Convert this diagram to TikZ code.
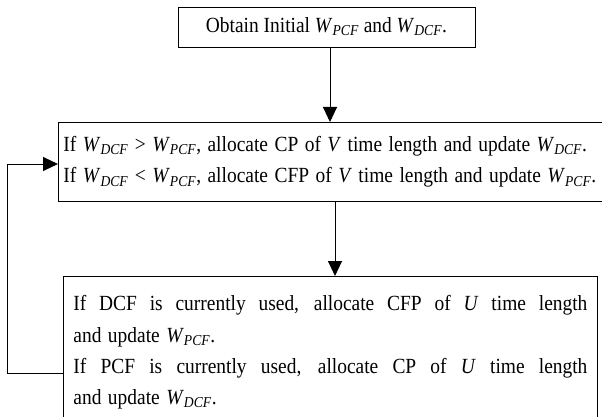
\documentclass[tikz,border=0pt]{standalone}
\usepackage{fontspec}
\setmainfont[FakeStretch=0.9]{Liberation Serif}
\usetikzlibrary{arrows.meta}
\newcommand\WW[1]{\textit{W}\textsubscript{\textit{#1}}}
\newcommand\jline[1]{\makebox[514pt][s]{\spaceskip=0pt\relax #1}}
\begin{document}
\begin{tikzpicture}[x=1pt,y=-1pt,
  every node/.style={font=\fontsize{21.6}{31.4}\selectfont},
  box/.style={draw,line width=0.9pt,rectangle},
  arr/.style={line width=0.9pt,-{Triangle[length=15pt,width=14pt]}},
  ln/.style={line width=0.9pt}]
\useasboundingbox (0,0) rectangle (602,417);
\clip (0,0) rectangle (602,417);
\node[box,minimum width=297pt,minimum height=40pt,inner sep=0pt] (box1) at (326.5,27) {Obtain Initial \WW{PCF} and \WW{DCF}.};
\node[box,anchor=north west,minimum height=79pt,text width=580pt,align=left,inner xsep=5pt,inner ysep=0pt] (box2) at (58,122)
  {\spaceskip=.3em\relax
   If \WW{DCF} > \WW{PCF}, allocate CP of \textit{V} time length and update \WW{DCF}.\\
   If \WW{DCF} < \WW{PCF}, allocate CFP of \textit{V} time length and update \WW{PCF}.};
\node[box,anchor=north west,text width=514pt,align=left,inner xsep=10pt,inner ysep=19pt] (box3) at (63,276)
  {\spaceskip=.3em\relax
   \jline{If DCF is currently used, allocate CFP of \textit{U} time length}\\
   and update \WW{PCF}.\\
   \jline{If PCF is currently used, allocate CP of \textit{U} time length}\\
   and update \WW{DCF}.};
\draw[arr] ([xshift=3.5pt]box1.south) -- ([xshift=3.5pt]box1.south |- box2.north);
\draw[arr] ([xshift=277pt]box2.south west) -- ([xshift=277pt]box2.south west |- box3.north);
\coordinate (c1) at (7,373);
\coordinate (c2) at (7,164);
\draw[ln] (c1 -| box3.west) -- (c1) -- (c2);
\draw[arr] (c2) -- (c2 -| box2.west);
\end{tikzpicture}
\end{document}
